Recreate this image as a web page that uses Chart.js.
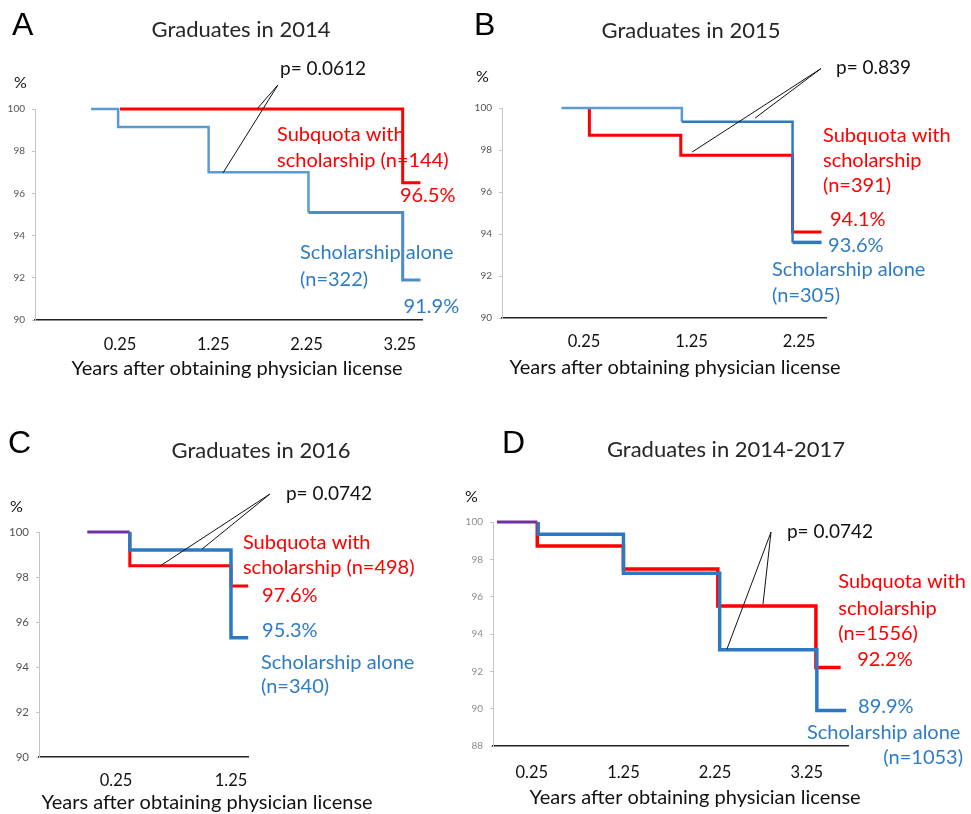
<!DOCTYPE html>
<html>
<head>
<meta charset="utf-8">
<title>Retention of scholarship physicians</title>
<script src="https://cdn.jsdelivr.net/npm/chart.js@4.4.1/dist/chart.umd.min.js"></script>
<style>
  html, body { margin: 0; padding: 0; background: #ffffff; }
  #wrap { position: relative; width: 971px; height: 814px; }
  #wrap canvas { position: absolute; left: 0; top: 0; }
</style>
</head>
<body>
<div id="wrap">
  <canvas id="cA" width="971" height="814"></canvas>
  <canvas id="cB" width="971" height="814"></canvas>
  <canvas id="cC" width="971" height="814"></canvas>
  <canvas id="cD" width="971" height="814"></canvas>
</div>
<script>
// ---- data (years after licence, % still in service) ----
const xTitle = 'Years after obtaining physician license';
const seriesSub = 'Subquota with scholarship';
const seriesSch = 'Scholarship alone';

// A: graduates in 2014
const ticksA = ['0.25', '1.25', '2.25', '3.25'];
const yearsA_sub = [0.25, 3.28, 3.47];
const survA_sub  = [100, 96.5, 96.5];
const yearsA_sch = [-0.06, 0.23, 1.20, 2.27, 3.28, 3.47];
const survA_sch  = [100, 99.15, 97.0, 95.1, 91.9, 91.9];
const nA = [144, 322];
const pA = '0.0612';

// B: graduates in 2015
const ticksB = ['0.25', '1.25', '2.25'];
const yearsB_sub = [0.30, 0.30, 1.15, 2.19, 2.46];
const survB_sub  = [100, 98.7, 97.75, 94.1, 94.1];
const yearsB_sch = [0.04, 1.16, 2.19, 2.46];
const survB_sch  = [100, 99.35, 93.6, 93.6];
const nB = [391, 305];
const pB = '0.839';

// C: graduates in 2016
const ticksC = ['0.25', '1.25'];
const yearsC_both = [0.0, 0.37];
const survC_both  = [100, 100];
const yearsC_sub = [0.37, 0.37, 1.25, 1.40];
const survC_sub  = [100, 98.5, 97.6, 97.6];
const yearsC_sch = [0.37, 0.37, 1.25, 1.40];
const survC_sch  = [100, 99.2, 95.3, 95.3];
const nC = [498, 340];
const pC = '0.0742';

// D: graduates in 2014-2017
const ticksD = ['0.25', '1.25', '2.25', '3.25'];
const yearsD_both = [-0.13, 0.31];
const survD_both  = [100, 100];
const yearsD_sub = [0.31, 0.31, 1.25, 2.28, 3.35, 3.62];
const survD_sub  = [100, 98.72, 97.48, 95.5, 92.2, 92.2];
const yearsD_sch = [0.32, 0.32, 1.25, 2.30, 3.36, 3.68];
const survD_sch  = [100, 99.35, 97.25, 93.15, 89.9, 89.9];
const nD = [1556, 1053];
const pD = '0.0742';

// ---- styling ----
const RED = '#FF0000';
const BLUE = '#2E78C2';
const BLUE_LIGHT = '#5B9BD5';
const PURPLE = '#7030A0';
const TXT_BLUE = '#2E7CC4';
const FONT = 'Lato, "Open Sans", sans-serif';
const NOTE_SIZE = 20;
const PAGE_W = 971, PAGE_H = 814;

function pts(xs, ys) { return xs.map((x, i) => ({ x: x, y: ys[i] })); }
function last(a) { return a[a.length - 1]; }
function pct(a) { return last(a).toFixed(1) + '%'; }

function stepLine(label, xs, ys, color, width, extra) {
  return Object.assign({
    label: label,
    data: pts(xs, ys),
    borderColor: color,
    borderWidth: width,
    stepped: 'before',
    pointRadius: 0,
    fill: false,
    tension: 0,
    clip: false,
    borderCapStyle: 'butt',
    borderJoinStyle: 'miter'
  }, extra || {});
}

// Panel decorations: letter, title, % unit, x title, leader lines and labels
function decorations(cfg) {
  return {
    id: 'deco',
    afterDraw(chart) {
      const ctx = chart.ctx;
      const sx = chart.scales.x, sy = chart.scales.y;
      const px = v => sx.getPixelForValue(v);
      const py = v => sy.getPixelForValue(v);
      ctx.save();
      ctx.textAlign = 'left';
      ctx.textBaseline = 'alphabetic';
      ctx.fillStyle = '#000';
      ctx.font = '32px "Liberation Sans", Arial, sans-serif';
      ctx.fillText(cfg.letter.text, cfg.letter.x, cfg.letter.y);

      ctx.fillStyle = '#262626';
      ctx.font = '22px ' + FONT;
      ctx.textAlign = 'center';
      ctx.fillText(cfg.title.text, cfg.title.x, cfg.title.y);

      ctx.fillStyle = '#111';
      ctx.font = '16px ' + FONT;
      ctx.textAlign = 'left';
      ctx.fillText('%', cfg.unit.x, cfg.unit.y);

      ctx.font = '20px ' + FONT;
      ctx.textAlign = 'center';
      ctx.textBaseline = 'middle';
      ctx.fillText(xTitle, cfg.xTitle.x, cfg.xTitle.y);

      ctx.strokeStyle = '#111';
      ctx.lineWidth = 1;
      cfg.leaders.forEach(l => {
        ctx.beginPath();
        ctx.moveTo(px(l[0]), py(l[1]));
        ctx.lineTo(px(l[2]), py(l[3]));
        ctx.stroke();
      });

      cfg.notes.forEach(n => {
        ctx.font = (n.size || NOTE_SIZE) + 'px ' + FONT;
        ctx.fillStyle = n.color;
        ctx.textAlign = n.align || 'left';
        ctx.textBaseline = 'middle';
        ctx.fillText(n.text, px(n.x), py(n.y));
      });
      ctx.restore();
    }
  };
}

function makePanel(cfg) {
  const yAxisW = 30, xAxisH = 40;
  const box = cfg.box;
  const tickVals = cfg.xTicks.map(Number);
  return new Chart(document.getElementById(cfg.id), {
    type: 'line',
    data: { datasets: cfg.datasets },
    options: {
      responsive: false,
      animation: false,
      events: [],
      layout: {
        padding: {
          left: box.left - yAxisW,
          top: box.top,
          right: PAGE_W - box.right,
          bottom: PAGE_H - box.bottom - xAxisH
        }
      },
      plugins: { legend: { display: false }, tooltip: { enabled: false }, title: { display: false } },
      scales: {
        x: {
          type: 'linear',
          min: cfg.xMin,
          max: cfg.xMax,
          afterBuildTicks: s => { s.ticks = tickVals.map(v => ({ value: v })); },
          afterFit: s => { s.height = xAxisH; },
          ticks: {
            callback: (v) => cfg.xTicks[tickVals.indexOf(v)],
            color: '#111',
            font: { family: FONT, size: 16.5 },
            padding: cfg.xTickPad,
            maxRotation: 0,
            autoSkip: false
          },
          grid: { display: true, drawOnChartArea: false, drawTicks: false },
          border: { display: true, color: '#222', width: 1.5 }
        },
        y: {
          type: 'linear',
          min: cfg.yMin,
          max: cfg.yMax,
          afterFit: s => { s.width = yAxisW; },
          ticks: {
            stepSize: 2,
            color: cfg.yTickColor,
            font: { family: FONT, size: cfg.yTickSize },
            padding: 7
          },
          grid: { display: true, drawOnChartArea: false, drawTicks: true, tickLength: 3, color: '#c4c4c4' },
          border: { display: true, color: '#c4c4c4', width: 1 }
        }
      }
    },
    plugins: [decorations(cfg)]
  });
}

// ---- A ----
makePanel({
  id: 'cA',
  box: { left: 35, top: 109, right: 422, bottom: 320 },
  xMin: -0.661, xMax: 3.487, yMin: 90, yMax: 100,
  xTicks: ticksA, xTickPad: 15, yTickSize: 10, yTickColor: '#555',
  datasets: [
    stepLine(seriesSch, yearsA_sch, survA_sch, BLUE_LIGHT, 2.5, {
      segment: {
        borderColor: c => c.p0DataIndex >= 3 ? '#4a8ccc' : BLUE_LIGHT,
        borderWidth: c => c.p0DataIndex >= 3 ? 3 : 2.5
      }
    }),
    stepLine(seriesSub, yearsA_sub, survA_sub, RED, 3)
  ],
  letter: { text: 'A', x: 12, y: 35 },
  title: { text: 'Graduates in 2014', x: 241, y: 37 },
  unit: { x: 14, y: 88 },
  xTitle: { x: 237, y: 369 },
  leaders: [[1.943, 101.14, 1.354, 96.97], [1.943, 101.14, 1.718, 100.0]],
  notes: [
    { text: 'p= ' + pA, x: 1.965, y: 101.9, color: '#111', size: 19 },
    { text: 'Subquota with', x: 1.933, y: 98.77, color: RED },
    { text: 'scholarship (n=' + nA[0] + ')', x: 1.933, y: 97.54, color: RED },
    { text: pct(survA_sub), x: 3.25, y: 95.88, color: RED },
    { text: seriesSch, x: 2.18, y: 93.22, color: TXT_BLUE },
    { text: '(n=' + nA[1] + ')', x: 2.18, y: 91.94, color: TXT_BLUE },
    { text: pct(survA_sch), x: 3.29, y: 90.62, color: TXT_BLUE }
  ]
});

// ---- B ----
makePanel({
  id: 'cB',
  box: { left: 502, top: 108, right: 826, bottom: 318 },
  xMin: -0.513, xMax: 2.501, yMin: 90, yMax: 100,
  xTicks: ticksB, xTickPad: 14, yTickSize: 10, yTickColor: '#555',
  datasets: [
    stepLine(seriesSch, yearsB_sch, survB_sch, BLUE_LIGHT, 2.5, {
      segment: {
        borderColor: c => c.p0DataIndex >= 1 ? BLUE : BLUE_LIGHT,
        borderWidth: c => c.p0DataIndex >= 2 ? 3.5 : 2.5
      }
    }),
    stepLine(seriesSub, yearsB_sub, survB_sub, RED, 3)
  ],
  letter: { text: 'B', x: 474, y: 35 },
  title: { text: 'Graduates in 2015', x: 691, y: 38 },
  unit: { x: 476, y: 82 },
  xTitle: { x: 675, y: 368 },
  leaders: [[2.455, 101.88, 1.255, 97.9], [2.455, 101.88, 1.841, 99.52]],
  notes: [
    { text: 'p= ' + pB, x: 2.594, y: 101.9, color: '#111', size: 19 },
    { text: 'Subquota with', x: 2.473, y: 98.71, color: RED },
    { text: 'scholarship', x: 2.473, y: 97.52, color: RED },
    { text: '(n=' + nB[0] + ')', x: 2.473, y: 96.29, color: RED },
    { text: pct(survB_sub), x: 2.538, y: 94.71, color: RED },
    { text: pct(survB_sch), x: 2.52, y: 93.43, color: TXT_BLUE },
    { text: seriesSch, x: 1.999, y: 92.29, color: TXT_BLUE },
    { text: '(n=' + nB[1] + ')', x: 1.999, y: 91.05, color: TXT_BLUE }
  ]
});

// ---- C ----
makePanel({
  id: 'cC',
  box: { left: 39, top: 532, right: 248, bottom: 757 },
  xMin: -0.42, xMax: 1.398, yMin: 90, yMax: 100,
  xTicks: ticksC, xTickPad: 14, yTickSize: 11.5, yTickColor: '#555',
  datasets: [
    stepLine(seriesSch, yearsC_sch, survC_sch, BLUE, 3.5),
    stepLine(seriesSub, yearsC_sub, survC_sub, RED, 3),
    stepLine('Both groups', yearsC_both, survC_both, PURPLE, 3)
  ],
  letter: { text: 'C', x: 8, y: 453 },
  title: { text: 'Graduates in 2016', x: 261, y: 458 },
  unit: { x: 10, y: 512 },
  xTitle: { x: 207, y: 803 },
  leaders: [[1.589, 101.69, 0.633, 98.49], [1.589, 101.69, 0.998, 99.24]],
  notes: [
    { text: 'p= ' + pC, x: 1.728, y: 101.69, color: '#111', size: 19 },
    { text: 'Subquota with', x: 1.354, y: 99.51, color: RED },
    { text: 'scholarship (n=' + nC[0] + ')', x: 1.354, y: 98.4, color: RED },
    { text: pct(survC_sub), x: 1.52, y: 97.16, color: RED },
    { text: pct(survC_sch), x: 1.52, y: 95.6, color: TXT_BLUE },
    { text: seriesSch, x: 1.511, y: 94.22, color: TXT_BLUE },
    { text: '(n=' + nC[1] + ')', x: 1.511, y: 93.11, color: TXT_BLUE }
  ]
});

// ---- D ----
makePanel({
  id: 'cD',
  box: { left: 493, top: 522, right: 848, bottom: 746 },
  xMin: -0.173, xMax: 3.70, yMin: 88, yMax: 100,
  xTicks: ticksD, xTickPad: 17, yTickSize: 10, yTickColor: '#8c8c8c',
  datasets: [
    stepLine(seriesSch, yearsD_sch, survD_sch, BLUE, 3.5),
    stepLine(seriesSub, yearsD_sub, survD_sub, RED, 3.5),
    stepLine('Both groups', yearsD_both, survD_both, PURPLE, 3)
  ],
  letter: { text: 'D', x: 502, y: 453 },
  title: { text: 'Graduates in 2014-2017', x: 726, y: 457 },
  unit: { x: 465, y: 502 },
  xTitle: { x: 695, y: 798 },
  leaders: [[2.86, 99.46, 2.38, 93.2], [2.86, 99.46, 2.773, 95.61]],
  notes: [
    { text: 'p= ' + pD, x: 3.034, y: 99.46, color: '#111', size: 19 },
    { text: 'Subquota with', x: 3.594, y: 96.79, color: RED },
    { text: 'scholarship', x: 3.594, y: 95.39, color: RED },
    { text: '(n=' + nD[0] + ')', x: 3.594, y: 94.05, color: RED },
    { text: pct(survD_sub), x: 3.80, y: 92.61, color: RED },
    { text: pct(survD_sch), x: 3.81, y: 90.14, color: TXT_BLUE },
    { text: seriesSch, x: 3.253, y: 88.7, color: TXT_BLUE },
    { text: '(n=' + nD[1] + ')', x: 4.955, y: 87.36, color: TXT_BLUE, align: 'right' }
  ]
});
</script>
</body>
</html>
